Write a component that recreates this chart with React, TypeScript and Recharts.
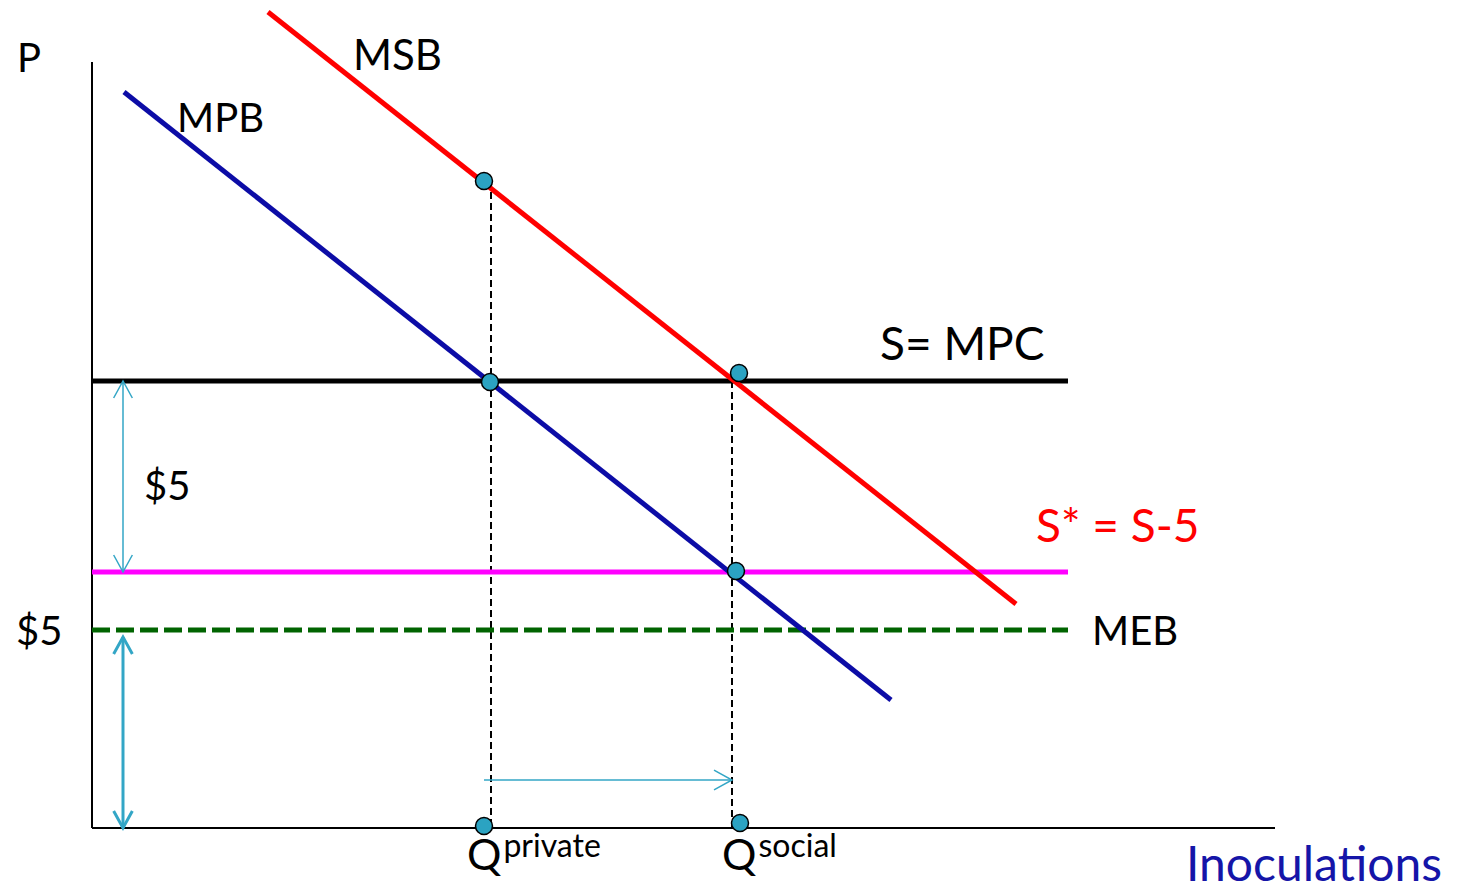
import React from "react";
import { ComposedChart, Line, Scatter, XAxis, YAxis } from "recharts";

// drawing units: quantity on x, price on y, origin where the two axes meet
const xAxisLine = [{ x: 0, y: 0 }, { x: 1183, y: 0 }];
const yAxisLine = [{ x: 0, y: 0 }, { x: 0, y: 766 }];
const msb = [{ x: 176, y: 816 }, { x: 924, y: 224 }];
const mpb = [{ x: 32, y: 736 }, { x: 799, y: 128 }];
const supplyMpc = [{ x: 0, y: 447 }, { x: 976, y: 447 }];
const supplySubsidy = [{ x: 0, y: 256 }, { x: 976, y: 256 }];
const meb = [{ x: 0, y: 198 }, { x: 976, y: 198 }];
const qPrivateGuide = [{ x: 399, y: 647 }, { x: 399, y: 0 }];
const qSocialGuide = [{ x: 640, y: 447 }, { x: 640, y: 0 }];
const shiftArrow = [{ x: 392, y: 48 }, { x: 640, y: 48 }];
const subsidyArrow = [{ x: 31, y: 447 }, { x: 31, y: 256 }];
const mebArrow = [{ x: 31, y: 191 }, { x: 31, y: 0 }];
const keyPoints = [
  { x: 392, y: 647 },
  { x: 398, y: 446 },
  { x: 647, y: 455 },
  { x: 644, y: 257 },
  { x: 392, y: 2 },
  { x: 648, y: 5 },
];

const blackLabels = [
  { text: "P", x: -75, y: 756 },
  { text: "MPB", x: 85, y: 696 },
  { text: "MEB", x: 1000, y: 183 },
  { text: "$5", x: -76, y: 183 },
  { text: "$5", x: 52, y: 328 },
];
const msbLabel = [{ text: "MSB", x: 261, y: 758 }];
const bigLabels = [{ text: "S= MPC", x: 788, y: 468 }];
const redLabels = [{ text: "S* = S-5", x: 944, y: 286 }];
const axisTitle = [{ text: "Inoculations", x: 1094, y: -53 }];
const qLabels = [
  { text: "Q", sup: "private", x: 375, y: -42 },
  { text: "Q", sup: "social", x: 630, y: -42 },
];

const FONT = "Lato, 'Open Sans', sans-serif";
const CYAN = "#33a6c6";

function arrowHeads(data: { x: number; y: number }[], ends: number[], size: number, width: number) {
  return (props: any) => {
    const { cx, cy, index } = props;
    if (!ends.includes(index) || cx == null) return <g key={index} />;
    const me = data[index];
    const other = data[index === 0 ? 1 : 0];
    const dx = Math.sign(me.x - other.x);
    const dy = -Math.sign(me.y - other.y);
    const bx = cx - dx * size;
    const by = cy - dy * size;
    const px = -dy * size * 0.55;
    const py = dx * size * 0.55;
    return (
      <path
        key={index}
        d={`M${bx + px},${by + py} L${cx},${cy} L${bx - px},${by - py}`}
        fill="none"
        stroke={CYAN}
        strokeWidth={width}
      />
    );
  };
}

function textShape(size: number, color: string) {
  return (props: any) => (
    <text x={props.cx} y={props.cy} fontSize={size} fill={color} fontFamily={FONT}>
      {props.payload.text}
    </text>
  );
}

function qShape(props: any) {
  return (
    <text x={props.cx} y={props.cy} fill="#000" fontFamily={FONT}>
      <tspan fontSize={43}>{props.payload.text}</tspan>
      <tspan fontSize={32} dx={2} dy={-13}>
        {props.payload.sup}
      </tspan>
    </text>
  );
}

export default function App() {
  return (
    <div style={{ position: "absolute", left: 0, top: 0, background: "#fff" }}>
      <ComposedChart width={1458} height={893} margin={{ top: 0, right: 0, bottom: 0, left: 0 }}>
        <XAxis type="number" dataKey="x" domain={[-92, 1366]} hide allowDataOverflow />
        <YAxis type="number" dataKey="y" domain={[-65, 828]} hide allowDataOverflow />

        <Line data={yAxisLine} dataKey="y" stroke="#000" strokeWidth={2} dot={false} isAnimationActive={false} />
        <Line data={xAxisLine} dataKey="y" stroke="#000" strokeWidth={2} dot={false} isAnimationActive={false} />

        <Line data={qPrivateGuide} dataKey="y" stroke="#000" strokeWidth={2} strokeDasharray="7 4" dot={false} isAnimationActive={false} />
        <Line data={qSocialGuide} dataKey="y" stroke="#000" strokeWidth={2} strokeDasharray="7 4" dot={false} isAnimationActive={false} />

        <Line data={meb} dataKey="y" stroke="#006400" strokeWidth={5} strokeDasharray="18 6" dot={false} isAnimationActive={false} />
        <Line data={supplySubsidy} dataKey="y" stroke="#ff00ff" strokeWidth={5} dot={false} isAnimationActive={false} />
        <Line data={supplyMpc} dataKey="y" stroke="#000" strokeWidth={5} dot={false} isAnimationActive={false} />
        <Line data={mpb} dataKey="y" stroke="#0c0ca6" strokeWidth={5} dot={false} isAnimationActive={false} />
        <Line data={msb} dataKey="y" stroke="#ff0000" strokeWidth={5} dot={false} isAnimationActive={false} />

        <Line data={shiftArrow} dataKey="y" stroke={CYAN} strokeWidth={1.5} dot={arrowHeads(shiftArrow, [1], 18, 1.5)} isAnimationActive={false} />
        <Line data={subsidyArrow} dataKey="y" stroke={CYAN} strokeWidth={1.5} dot={arrowHeads(subsidyArrow, [0, 1], 17, 1.5)} isAnimationActive={false} />
        <Line data={mebArrow} dataKey="y" stroke={CYAN} strokeWidth={3} dot={arrowHeads(mebArrow, [0, 1], 17, 3)} isAnimationActive={false} />

        <Scatter
          data={keyPoints}
          dataKey="y"
          isAnimationActive={false}
          shape={(p: any) => <circle cx={p.cx} cy={p.cy} r={8.5} fill="#2ba3c2" stroke="#000" strokeWidth={1.5} />}
        />

        <Scatter data={blackLabels} dataKey="y" isAnimationActive={false} shape={textShape(40, "#000")} />
        <Scatter data={msbLabel} dataKey="y" isAnimationActive={false} shape={textShape(42, "#000")} />
        <Scatter data={bigLabels} dataKey="y" isAnimationActive={false} shape={textShape(46, "#000")} />
        <Scatter data={redLabels} dataKey="y" isAnimationActive={false} shape={textShape(46, "#ff0000")} />
        <Scatter data={axisTitle} dataKey="y" isAnimationActive={false} shape={textShape(48, "#1515a8")} />
        <Scatter data={qLabels} dataKey="y" isAnimationActive={false} shape={qShape} />
      </ComposedChart>
    </div>
  );
}
